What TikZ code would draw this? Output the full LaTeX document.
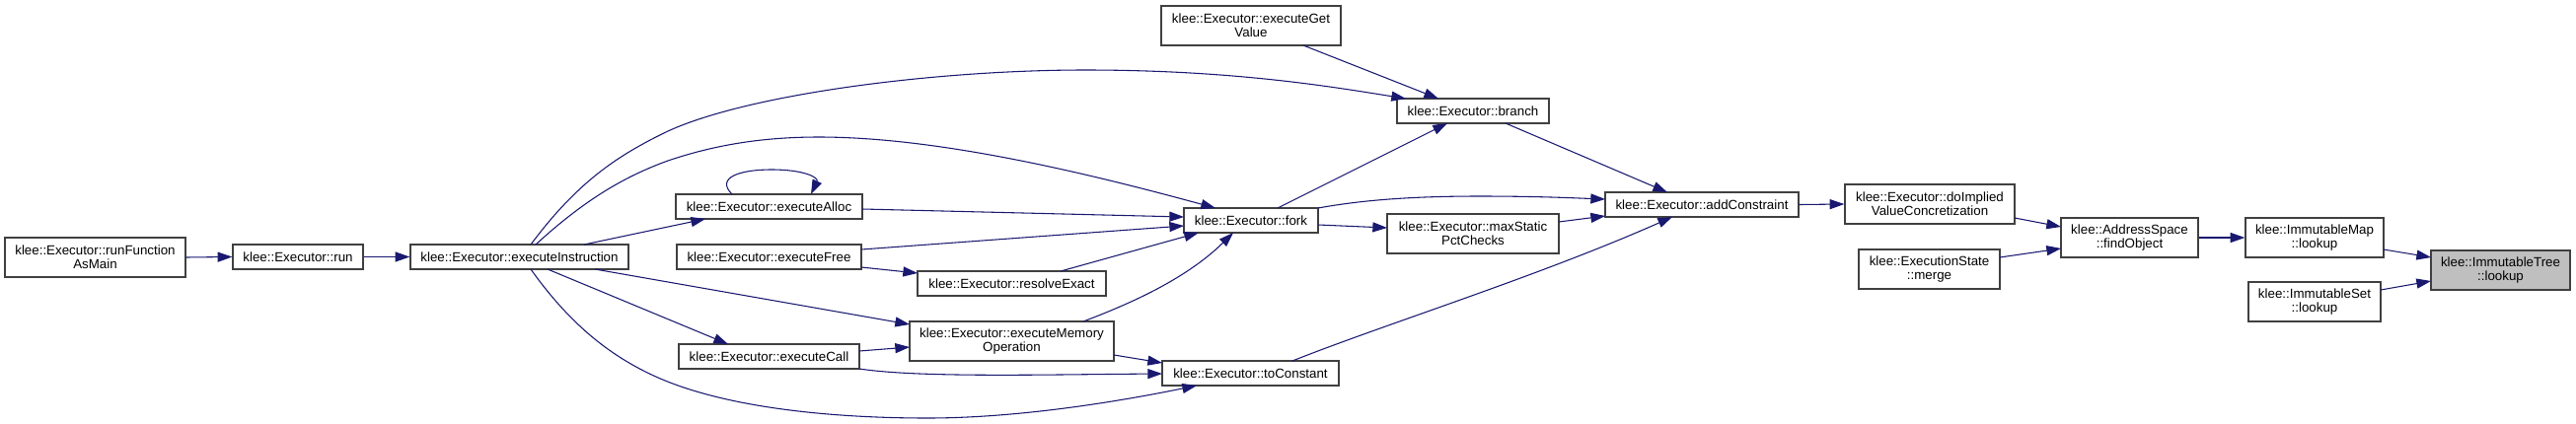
\documentclass[tikz,border=0pt]{standalone}
\usepackage{fontspec}
\newfontfamily\dfont{Liberation Sans}
\usetikzlibrary{arrows.meta,calc}
\definecolor{edgec}{HTML}{191970}
\definecolor{boxc}{HTML}{404040}
\definecolor{hilite}{HTML}{BFBFBF}
\tikzset{
  fn/.style={draw=boxc, line width=1pt, fill=white, rectangle, inner sep=0pt, align=center,
    font=\dfont\fontsize{10}{10.5}\selectfont},
  sz/.style 2 args={minimum width=#1*0.75pt, minimum height=#2*0.75pt},
  call/.style={draw=edgec, line width=0.8pt, -{Triangle[length=11pt,width=7.5pt]}},
}
\begin{document}
\begin{tikzpicture}[x=0.75pt,y=-0.75pt]
\fill[white] (0,0) rectangle (2611,429);
\useasboundingbox (0,0) rectangle (2611,429);

% nodes
\node[fn, sz={183}{40}] (rfm) at (96.5,261) {klee::Executor::runFunction\\AsMain};
\node[fn, sz={132}{25}] (run) at (302,260.5) {klee::Executor::run};
\node[fn, sz={221}{25}] (ei) at (526.5,260.5) {klee::Executor::executeInstruction};
\node[fn, sz={189}{25}] (ea) at (779.5,209.5) {klee::Executor::executeAlloc};
\node[fn, sz={187}{25}] (ef) at (779.5,260.5) {klee::Executor::executeFree};
\node[fn, sz={183}{25}] (ec) at (779.5,361.5) {klee::Executor::executeCall};
\node[fn, sz={191}{25}] (re) at (1025.5,287.5) {klee::Executor::resolveExact};
\node[fn, sz={207}{40}] (emo) at (1025.5,346) {klee::Executor::executeMemory\\Operation};
\node[fn, sz={182}{40}] (egv) at (1268,26) {klee::Executor::executeGet\\Value};
\node[fn, sz={136}{25}] (fork) at (1268,223.5) {klee::Executor::fork};
\node[fn, sz={179}{25}] (tc) at (1267.5,378.5) {klee::Executor::toConstant};
\node[fn, sz={154}{25}] (br) at (1493,112.5) {klee::Executor::branch};
\node[fn, sz={174}{40}] (msp) at (1493,237) {klee::Executor::maxStatic\\PctChecks};
\node[fn, sz={196}{25}] (ac) at (1725,207.5) {klee::Executor::addConstraint};
\node[fn, sz={172}{40}] (div) at (1956,207) {klee::Executor::doImplied\\ValueConcretization};
\node[fn, sz={143}{40}] (mg) at (1955.5,273) {klee::ExecutionState\\::merge};
\node[fn, sz={139}{40}] (fo) at (2158.5,241) {klee::AddressSpace\\::findObject};
\node[fn, sz={140}{40}] (im) at (2346,241) {klee::ImmutableMap\\::lookup};
\node[fn, sz={141}{40}, fill=hilite] (it) at (2534.5,274) {klee::ImmutableTree\\::lookup};
\node[fn, sz={134}{40}] (is) at (2346,306) {klee::ImmutableSet\\::lookup};

% edges
\draw[call] (rfm.east) -- (run.west);
\draw[call] (run.east) -- (ei.west);
\draw[call] ($(ei)+(11.5,-12.5)$) .. controls (585,185) and (625,158) .. (677,133)
  .. controls (760,95) and (950,71) .. (1100,71)
  .. controls (1250,71) and (1350,88) .. ($(br)+(-68,-12.5)$);
\draw[call] ($(ei)+(16.5,-12.5)$) .. controls (590,205) and (630,180) .. (677,163)
  .. controls (730,145) and (780,139) .. (830,139)
  .. controls (950,139) and (1100,175) .. ($(fork)+(-36,-12.5)$);
\draw[call] ($(ei)+(65.5,-12.5)$) -- ($(ea)+(-64.5,12.5)$);
\draw[call] ($(ei)+(76.5,12.5)$) -- ($(emo)+(-103.5,-17)$);
\draw[call] ($(ei)+(28.5,12.5)$) -- ($(ec)+(-41.5,-12.5)$);
\draw[call] ($(ei)+(11.5,12.5)$) .. controls (575,325) and (615,360) .. (667,383)
  .. controls (740,415) and (850,424) .. (940,424)
  .. controls (1030,424) and (1130,408) .. ($(tc)+(-54.5,12.5)$);
\draw[call] ($(ea)+(-37.5,-12.5)$) .. controls (725,180) and (750,172) .. (782,172)
  .. controls (815,172) and (830,180) .. ($(ea)+(42.5,-12.5)$);
\draw[call] ($(ea)+(94.5,2.5)$) -- ($(fork)+(-68,-3.5)$);
\draw[call] ($(ef)+(93.5,-7.5)$) -- ($(fork)+(-68,5.5)$);
\draw[call] ($(ef)+(93.5,10.5)$) -- ($(re)+(-95.5,-10.5)$);
\draw[call] ($(re)+(49.5,-12.5)$) -- ($(fork)+(-53,12.5)$);
\draw[call] ($(ec)+(91.5,-5.5)$) -- ($(emo)+(-103.5,6)$);
\draw[call] ($(ec)+(91.5,12.5)$) .. controls (930,383) and (1050,380) .. ($(tc)+(-89.5,0.5)$);
\draw[call] ($(emo)+(72.5,-20)$) .. controls (1140,310) and (1200,285) .. ($(fork)+(-18,12.5)$);
\draw[call] ($(emo)+(103.5,14)$) -- ($(tc)+(-89.5,-10.5)$);
\draw[call] ($(egv)+(53,20)$) -- ($(br)+(-35,-12.5)$);
\draw[call] ($(fork)+(27,-12.5)$) -- ($(br)+(-26,12.5)$);
\draw[call] ($(fork)+(68,-12.5)$) .. controls (1380,203) and (1430,199) .. (1500,199)
  .. controls (1560,199) and (1600,201) .. ($(ac)+(-98,-5.5)$);
\draw[call] ($(fork)+(68,4.5)$) -- ($(msp)+(-87,-6)$);
\draw[call] ($(br)+(33,12.5)$) -- ($(ac)+(-35,-12.5)$);
\draw[call] ($(msp)+(87,-12)$) -- ($(ac)+(-98,11.5)$);
\draw[call] ($(tc)+(42.5,-12.5)$) .. controls (1400,330) and (1560,280) .. ($(ac)+(-30,12.5)$);
\draw[call] (ac.east) -- (div.west);
\draw[call] ($(div)+(86,14)$) -- ($(fo)+(-69.5,-11)$);
\draw[call] ($(mg)+(71.5,-12)$) -- ($(fo)+(-69.5,11)$);
\draw[call] (fo.east) -- (im.west);
\draw[call] ($(im)+(70,12)$) -- ($(it)+(-70.5,-13)$);
\draw[call] ($(is)+(67,-12)$) -- ($(it)+(-70.5,11)$);
\end{tikzpicture}
\end{document}
